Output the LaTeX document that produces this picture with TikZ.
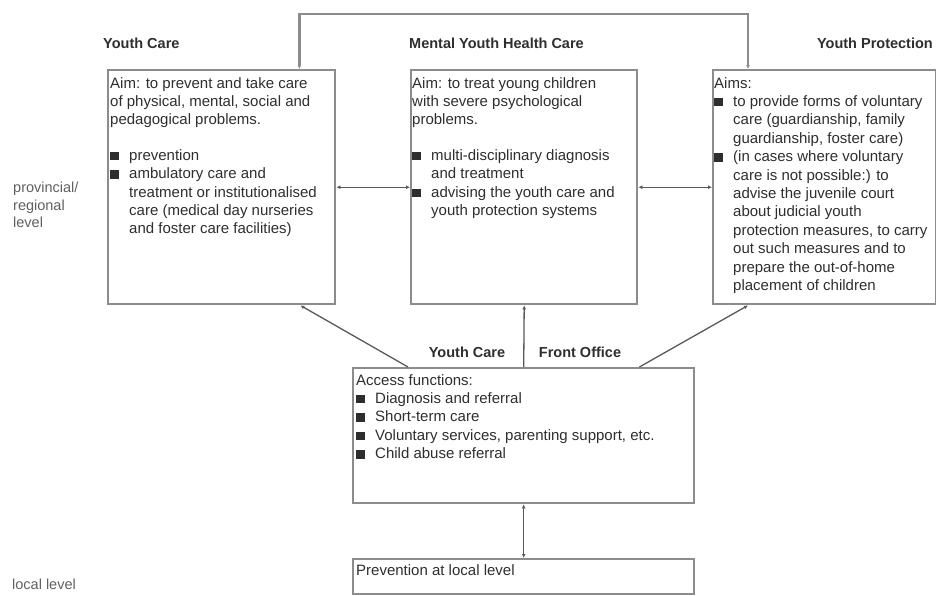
\documentclass[tikz,border=0pt]{standalone}
\usepackage{fontspec}
\setmainfont{Liberation Sans}
\usetikzlibrary{positioning,arrows.meta}
\definecolor{ink}{gray}{0.18}
\definecolor{frame}{gray}{0.55}
\definecolor{wire}{gray}{0.35}
\newcommand{\itm}{\makebox[19pt][l]{\rule[0pt]{8.5pt}{8.5pt}}}
\newcommand{\ind}{\hspace*{19pt}}
\tikzset{box/.style={draw=frame,line width=2.4pt,anchor=north west,inner sep=0pt},
  txt/.style={anchor=north west,align=left,inner sep=0pt,text=ink,
    font=\fontsize{15}{18.4}\selectfont},
  ttl/.style={inner sep=0pt,text=ink,font=\fontsize{14.5}{17}\selectfont\bfseries},
  lvl/.style={anchor=west,align=left,inner sep=0pt,text=gray!75!black,
    font=\fontsize{14.5}{17.6}\selectfont},
  link/.style={draw=wire,line width=1.3pt,{Latex[length=4pt,width=4pt]}-{Latex[length=4pt,width=4pt]}},
  lnk/.style={draw=wire,line width=1.3pt,-{Latex[length=4pt,width=4pt]}}}

\begin{document}
\begin{tikzpicture}[x=1pt,y=-1pt]
  \useasboundingbox (0,0) rectangle (936,595);
  % three provincial services
  \node[box,minimum width=227pt,minimum height=234pt] (yc) at (107,69) {};
  \node[box,minimum width=226pt,minimum height=234pt] (myhc) at (410,69) {};
  \node[box,minimum width=223pt,minimum height=234pt] (yp) at (712,69) {};
  \node[ttl,anchor=west] (ycttl) at (103,43) {Youth Care};
  \node[ttl,anchor=west] (myttl) at (409,43) {Mental Youth Health Care};
  \node[ttl,anchor=east] (ypttl) at (933,43) {Youth Protection};
  \node[txt] (yctxt) at (110,77) {Aim: to prevent and take care\\of physical, mental, social and\\pedagogical problems.\\[17pt]
    \itm prevention\\\itm ambulatory care and\\\ind treatment or institutionalised\\\ind care (medical day nurseries\\\ind and foster care facilities)};
  \node[txt] (mytxt) at (412,77) {Aim: to treat young children\\with severe psychological\\problems.\\[17pt]
    \itm multi-disciplinary diagnosis\\\ind and treatment\\\itm advising the youth care and\\\ind youth protection systems};
  \node[txt] (yptxt) at (714,77) {Aims:\\\itm to provide forms of voluntary\\\ind care (guardianship, family\\\ind guardianship, foster care)\\
    \itm (in cases where voluntary\\\ind care is not possible:) to\\\ind advise the juvenile court\\\ind about judicial youth\\
    \ind protection measures, to carry\\\ind out such measures and to\\\ind prepare the out-of-home\\\ind placement of children};
  % front office and local level
  \node[box,minimum width=341pt,minimum height=135pt] (acc) at (352,367) {};
  \node[txt] (acctxt) at (356,374) {Access functions:\\\itm Diagnosis and referral\\\itm Short-term care\\
    \itm Voluntary services, parenting support, etc.\\\itm Child abuse referral};
  \node[ttl] (fo1) at (467,352) {Youth Care};
  \node[ttl] (fo2) at (580,352) {Front Office};
  \node[box,minimum width=341pt,minimum height=35pt] (prev) at (352,558) {};
  \node[txt] (prevtxt) at (356,564) {Prevention at local level};
  \node[lvl,anchor=north west] (prov) at (13,182) {provincial/\\regional\\level};
  \node[lvl] (loc) at (12,584) {local level};
  % connectors
  \coordinate (loop) at (520,14);
  \draw[link,draw=frame,line width=2.4pt] ([xshift=-37pt]yc.north east) |- (loop) -| ([xshift=36pt]yp.north west);
  \draw[link] (yc.east) -- (myhc.west); \draw[link] (myhc.east) -- (yp.west);
  \draw[lnk] (acc.north) -- (myhc.south);
  \draw[lnk] ([xshift=56pt]acc.north west) -- ([xshift=-36pt]yc.south east);
  \draw[lnk] ([xshift=-56pt]acc.north east) -- ([xshift=36pt]yp.south west);
  \draw[link] (acc.south) -- (prev.north);
\end{tikzpicture}
\end{document}
